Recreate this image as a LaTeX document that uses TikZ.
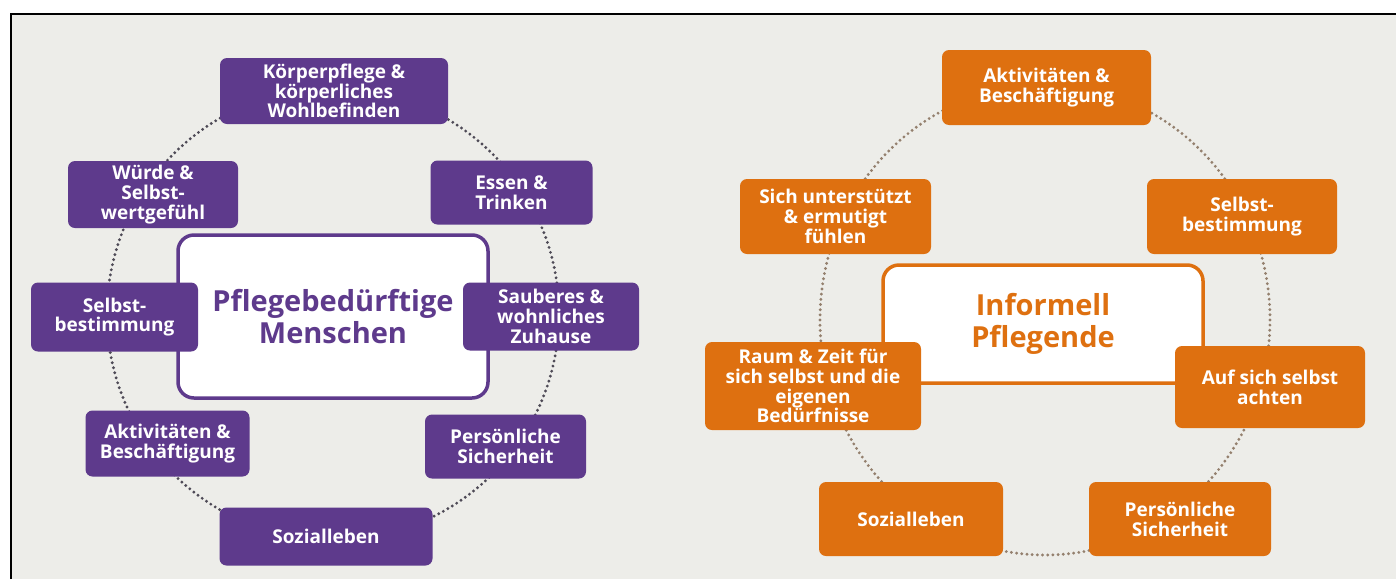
\documentclass[tikz,border=0pt]{standalone}
\usepackage{fontspec}
\setmainfont{Open Sans}
\definecolor{lila}{HTML}{5E3A8C}
\definecolor{orng}{HTML}{DE7010}
\definecolor{bgc}{HTML}{EDEDE9}
\definecolor{dotl}{HTML}{4E4A56}
\definecolor{doto}{HTML}{94806E}
\begin{document}
\begin{tikzpicture}[x=1pt,y=-1pt,
  tbox/.style={rounded corners=7pt, inner sep=0pt, align=center, text=white,
    font=\bfseries\fontsize{19}{19.8}\selectfont},
  pbox/.style={tbox, fill=lila},
  obox/.style={tbox, fill=orng},
  cbox/.style={rounded corners=16pt, fill=white, line width=3.5pt, inner sep=0pt,
    align=center, font=\bfseries\fontsize{29}{32.5}\selectfont},
  ring/.style={line width=3.2pt, line cap=round, dash pattern=on 0pt off 5.2pt}]
\useasboundingbox (0,0) rectangle (1396,579);
\fill[white] (0,0) rectangle (1396,579);
\fill[bgc] (11,14) rectangle (1396,579);
\draw[line width=2.5pt, black] (11,579) -- (11,14) -- (1396,14);

% ---------- left ring ----------
\coordinate (lc) at (333,314);
\draw[ring, dotl] (lc) circle [radius=226pt];
\node[cbox, draw=lila, text=lila, minimum width=310pt, minimum height=163pt] (lcenter) at (333,316.5) {Pflegebedürftige\\Menschen};
\node[pbox, minimum width=228pt, minimum height=66pt] (koerper) at (334,91) {Körperpflege \&\\körperliches\\Wohlbefinden};
\node[pbox, minimum width=170pt, minimum height=67pt] (wuerde) at (153,194.5) {Würde \&\\Selbst-\\wertgefühl};
\node[pbox, minimum width=162pt, minimum height=64pt] (essen) at (511.5,192.5) {Essen \&\\Trinken};
\node[pbox, minimum width=167pt, minimum height=69pt] (selbstL) at (114.5,317) {Selbst-\\bestimmung};
\node[pbox, minimum width=176pt, minimum height=68pt] (sauber) at (551,316.5) {Sauberes \&\\wohnliches\\Zuhause};
\node[pbox, minimum width=164pt, minimum height=66pt] (aktivL) at (167.5,443.5) {Aktivitäten \&\\Beschäftigung};
\node[pbox, minimum width=161pt, minimum height=64pt] (persL) at (505.5,446.5) {Persönliche\\Sicherheit};
\node[pbox, minimum width=213pt, minimum height=58pt] (sozL) at (326,536.5) {Sozialleben};

% ---------- right ring ----------
\coordinate (rc) at (1045,320);
\draw[ring, doto] (rc) ellipse [x radius=225pt, y radius=235pt];
\node[cbox, draw=orng, text=orng, minimum width=320pt, minimum height=118pt] (rcenter) at (1043,324) {Informell\\Pflegende};
\node[obox, minimum width=209pt, minimum height=75pt] (aktivR) at (1046.5,87.5) {Aktivitäten \&\\Beschäftigung};
\node[obox, minimum width=191pt, minimum height=75pt] (unter) at (835.5,216.5) {Sich unterstützt\\\& ermutigt\\fühlen};
\node[obox, minimum width=190pt, minimum height=75pt] (selbstR) at (1242,216.5) {Selbst-\\bestimmung};
\node[obox, minimum width=216pt, minimum height=88pt] (raum) at (813,386) {Raum \& Zeit für\\sich selbst und die\\eigenen\\Bedürfnisse};
\node[obox, minimum width=190pt, minimum height=82pt] (auf) at (1270,387) {Auf sich selbst\\achten};
\node[obox, minimum width=184pt, minimum height=74pt] (sozR) at (911,519) {Sozialleben};
\node[obox, minimum width=182pt, minimum height=74pt] (persR) at (1180,519) {Persönliche\\Sicherheit};
\end{tikzpicture}
\end{document}
